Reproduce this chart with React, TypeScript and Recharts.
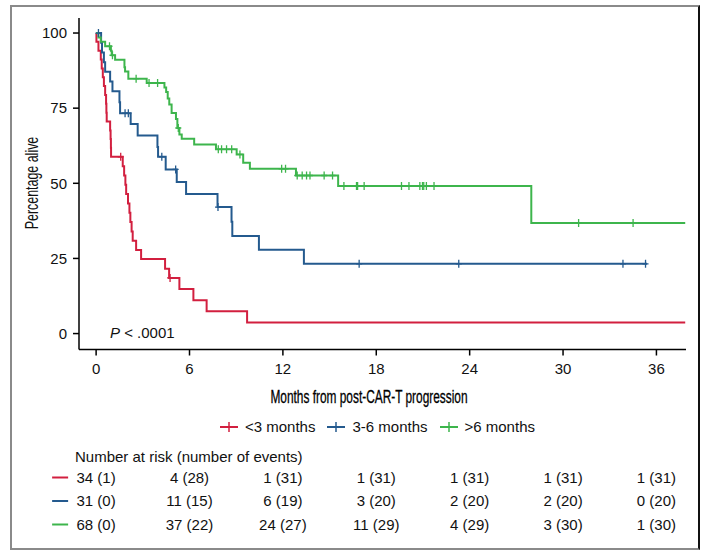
import React from "react";
import { ComposedChart, Line, Scatter, XAxis, YAxis } from "recharts";

// Kaplan-Meier steps: [months, percent alive]
const redSteps: [number, number][] = [
  [0, 100], [0.02, 97.1], [0.15, 94.1], [0.3, 91.2], [0.36, 88.2], [0.43, 85.3],
  [0.5, 82.4], [0.58, 79.4], [0.64, 76.5], [0.66, 73.5], [0.68, 70.6], [0.9, 67.6],
  [0.93, 64.7], [0.95, 61.8], [0.96, 58.8], [1.71, 55.7], [1.8, 52.6], [1.88, 49.5],
  [1.93, 46.4], [2.05, 43.3], [2.14, 40.2], [2.2, 37.1], [2.28, 34.0], [2.35, 30.9],
  [2.57, 27.8], [2.89, 24.8], [4.43, 21.6], [4.69, 18.5], [5.35, 14.8], [6.25, 11.1],
  [7.1, 7.4], [9.7, 3.7], [37.85, 3.7],
];
const redCensor: [number, number][] = [[1.58, 58.8], [4.75, 18.5]];

const blueSteps: [number, number][] = [
  [0, 100], [0.32, 96.8], [0.38, 93.5], [0.5, 90.3], [0.58, 87.1], [0.9, 83.9],
  [1.05, 80.6], [1.5, 77.0], [1.54, 73.3], [2.22, 69.7], [2.67, 65.9], [3.94, 62.1],
  [3.98, 58.8], [4.47, 54.6], [5.18, 50.4], [5.78, 46.4], [7.8, 42.1], [8.7, 37.2],
  [8.75, 32.5], [10.46, 27.9], [13.35, 23.2], [35.4, 23.2],
];
const blueCensor: [number, number][] = [
  [0.15, 100], [1.86, 73.3], [2.07, 73.3], [4.22, 58.8], [5.11, 54.6], [7.83, 42.1],
  [16.9, 23.2], [23.3, 23.2], [33.85, 23.2], [35.3, 23.2],
];

const greenSteps: [number, number][] = [
  [0, 100], [0.15, 98.5], [0.3, 97.1], [0.58, 95.6], [0.95, 94.1], [1.0, 92.6],
  [1.22, 91.1], [1.82, 88.6], [1.86, 87.2], [2.07, 84.8], [3.25, 83.4], [4.39, 81.9],
  [4.5, 80.4], [4.6, 78.2], [4.7, 76.2], [4.85, 73.4], [5.13, 71.4], [5.22, 68.4],
  [5.35, 66.2], [5.5, 64.8], [6.3, 62.9], [7.7, 61.3], [9.03, 59.6], [9.45, 56.8],
  [9.88, 54.8], [12.84, 52.6], [15.55, 49.1], [27.96, 36.8], [37.85, 36.8],
];
const greenCensor: [number, number][] = [
  [0.86, 95.6], [1.05, 92.6], [2.57, 84.8], [3.4, 83.4], [3.95, 83.4], [5.28, 68.4],
  [7.85, 61.3], [8.06, 61.3], [8.38, 61.3], [8.71, 61.3], [9.24, 59.6],
  [11.92, 54.8], [12.17, 54.8], [12.92, 52.6], [13.24, 52.6], [13.52, 52.6],
  [13.74, 52.6], [14.65, 52.6], [15.19, 52.6], [15.92, 49.1], [16.73, 49.1],
  [16.8, 49.1], [17.22, 49.1], [19.62, 49.1], [20.1, 49.1], [20.8, 49.1],
  [20.97, 49.1], [21.05, 49.1], [21.22, 49.1], [21.71, 49.1], [31.0, 36.8], [34.5, 36.8],
];

const xTicks = [0, 6, 12, 18, 24, 30, 36];
const yTicks = [0, 25, 50, 75, 100];

const groupNames = ["<3 months", "3-6 months", ">6 months"];
const riskRed = ["34 (1)", "4 (28)", "1 (31)", "1 (31)", "1 (31)", "1 (31)", "1 (31)"];
const riskBlue = ["31 (0)", "11 (15)", "6 (19)", "3 (20)", "2 (20)", "2 (20)", "0 (20)"];
const riskGreen = ["68 (0)", "37 (22)", "24 (27)", "11 (29)", "4 (29)", "3 (30)", "1 (30)"];

const RED = "#d21f3f";
const BLUE = "#245a8e";
const GREEN = "#3db54c";
const FONT = "'Liberation Sans', Arial, sans-serif";

const toPts = (arr: [number, number][]) => arr.map(([t, s]) => ({ t, s }));

const rows = [
  { id: "r1", color: RED, cells: riskRed },
  { id: "r2", color: BLUE, cells: riskBlue },
  { id: "r3", color: GREEN, cells: riskGreen },
];

function Censor(props: any) {
  const { cx, cy, fill } = props;
  if (cx == null || cy == null) return null;
  return (
    <g stroke={fill} strokeWidth={1.3}>
      <line x1={cx} y1={cy - 4} x2={cx} y2={cy + 4} />
      <line x1={cx - 3} y1={cy} x2={cx + 3} y2={cy} />
    </g>
  );
}

function riskTick(cells: string[], color: string) {
  return (props: any) => {
    const { x, y, index } = props;
    return (
      <g>
        {index === 0 && (
          <line x1={x - 44} y1={y + 10} x2={x - 28} y2={y + 10} stroke={color} strokeWidth={2} />
        )}
        <text x={x} y={y + 15} textAnchor="middle" fontSize={15} fill="#111" fontFamily={FONT}>
          {cells[index]}
        </text>
      </g>
    );
  };
}

function LegendMark({ color }: { color: string }) {
  return (
    <svg width={18} height={14} style={{ marginRight: 7 }}>
      <line x1={0} y1={7} x2={18} y2={7} stroke={color} strokeWidth={2} />
      <line x1={9} y1={2} x2={9} y2={12} stroke={color} strokeWidth={1.5} />
    </svg>
  );
}

export default function App() {
  const colors = [RED, BLUE, GREEN];
  return (
    <div style={{ position: "absolute", left: 0, top: 0, width: 706, height: 550, background: "#fff", fontFamily: FONT }}>
      <div
        style={{
          position: "absolute",
          left: 10,
          top: 5,
          width: 686,
          height: 541,
          borderTop: "2px solid #8a8a8a",
          borderLeft: "2px solid #8a8a8a",
          borderBottom: "2px solid #8a8a8a",
          borderRight: "2px solid #111",
        }}
      />
      <div style={{ position: "absolute", left: 0, top: 0 }}>
        <ComposedChart width={706} height={550} margin={{ top: 18, right: 20, left: 39, bottom: 12 }}>
          <XAxis
            dataKey="t"
            type="number"
            domain={[-1.1, 37.9]}
            allowDataOverflow
            ticks={xTicks}
            height={118}
            tickSize={6}
            tickMargin={8}
            stroke="#000"
            strokeWidth={1.5}
            tick={{ fill: "#111", fontSize: 15, fontFamily: FONT }}
          />
          {rows.map((r) => (
            <XAxis
              key={r.id}
              xAxisId={r.id}
              dataKey="t"
              type="number"
              domain={[-1.1, 37.9]}
              allowDataOverflow
              ticks={xTicks}
              height={23.5}
              axisLine={false}
              tickLine={false}
              tickSize={0}
              tickMargin={0}
              tick={riskTick(r.cells, r.color)}
            />
          ))}
          <YAxis
            dataKey="s"
            type="number"
            domain={[-5.3, 105]}
            allowDataOverflow
            ticks={yTicks}
            width={40}
            tickSize={6}
            tickMargin={6}
            stroke="#000"
            strokeWidth={1.5}
            tick={{ fill: "#111", fontSize: 15, fontFamily: FONT }}
          />
          <Line data={toPts(redSteps)} dataKey="s" type="stepAfter" stroke={RED} strokeWidth={2} dot={false} isAnimationActive={false} />
          <Line data={toPts(blueSteps)} dataKey="s" type="stepAfter" stroke={BLUE} strokeWidth={2} dot={false} isAnimationActive={false} />
          <Line data={toPts(greenSteps)} dataKey="s" type="stepAfter" stroke={GREEN} strokeWidth={2} dot={false} isAnimationActive={false} />
          <Scatter data={toPts(redCensor)} fill={RED} shape={Censor} isAnimationActive={false} />
          <Scatter data={toPts(blueCensor)} fill={BLUE} shape={Censor} isAnimationActive={false} />
          <Scatter data={toPts(greenCensor)} fill={GREEN} shape={Censor} isAnimationActive={false} />
        </ComposedChart>
      </div>
      <div
        style={{
          position: "absolute",
          left: 32,
          top: 183,
          transform: "translate(-50%, -50%) rotate(-90deg) scaleX(0.69)",
          whiteSpace: "nowrap",
          fontSize: 18,
          color: "#111",
        }}
      >
        Percentage alive
      </div>
      <div
        style={{
          position: "absolute",
          left: 369,
          top: 397,
          transform: "translate(-50%, -50%) scaleX(0.66)",
          whiteSpace: "nowrap",
          fontSize: 18,
          color: "#000",
          WebkitTextStroke: "0.3px #000",
        }}
      >
        Months from post-CAR-T progression
      </div>
      <div style={{ position: "absolute", left: 110, top: 324, fontSize: 15, color: "#111", whiteSpace: "nowrap" }}>
        <i>P</i> &lt; .0001
      </div>
      <div
        style={{
          position: "absolute",
          left: 220,
          top: 418,
          display: "flex",
          alignItems: "center",
          fontSize: 15,
          color: "#111",
          whiteSpace: "nowrap",
        }}
      >
        {groupNames.map((g, i) => (
          <span key={g} style={{ display: "flex", alignItems: "center", marginRight: 12 }}>
            <LegendMark color={colors[i]} />
            {g}
          </span>
        ))}
      </div>
      <div style={{ position: "absolute", left: 75, top: 448, fontSize: 15, color: "#111", whiteSpace: "nowrap" }}>
        Number at risk (number of events)
      </div>
    </div>
  );
}
